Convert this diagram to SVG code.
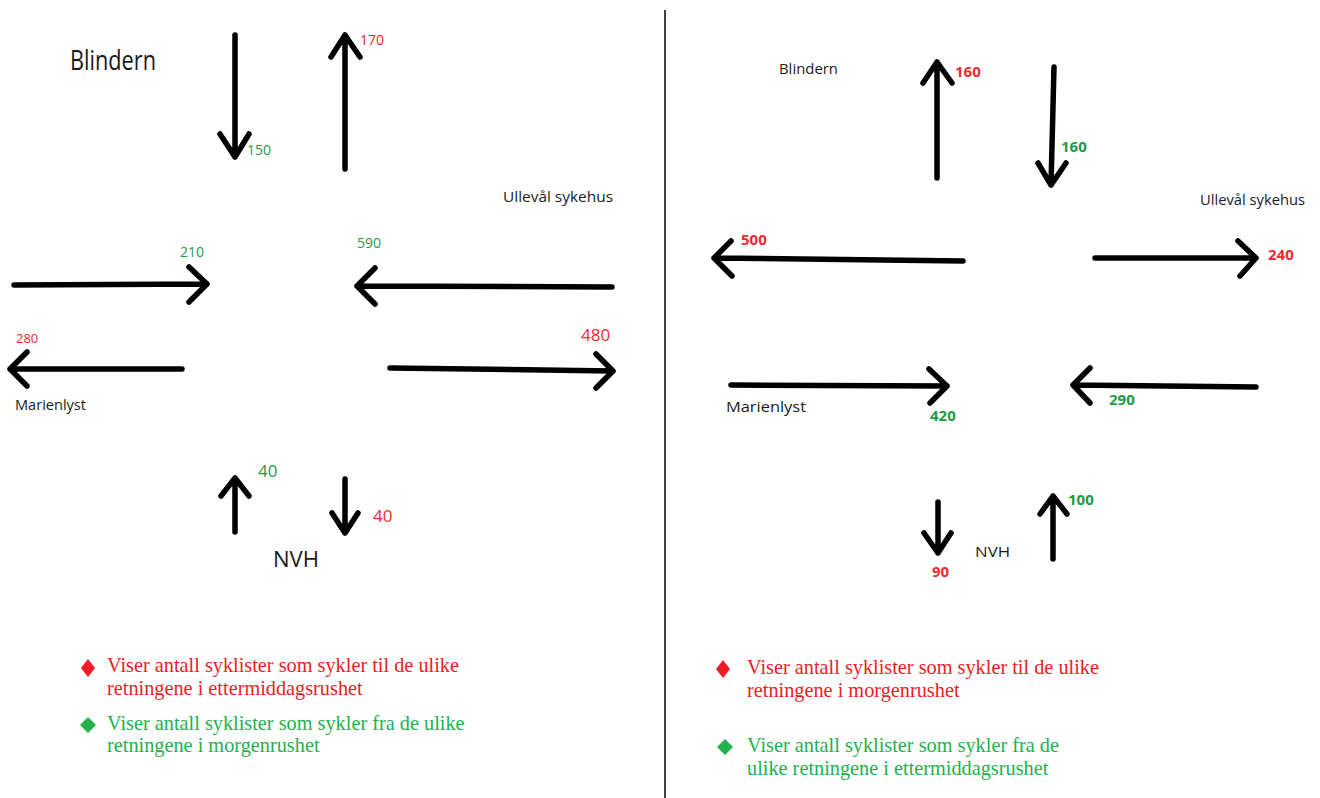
<svg xmlns="http://www.w3.org/2000/svg" width="1320" height="798" viewBox="0 0 1320 798">
<style>
.arr{fill:none;stroke:#000;stroke-width:5.5;stroke-linecap:round;stroke-linejoin:round}
.place{font-family:"Open Sans","Liberation Sans",sans-serif;fill:#1a1a1a}
.num{font-family:"Open Sans","Liberation Sans",sans-serif}
.red{fill:#ee2a2e}
.grn{fill:#1f9a45}
.bold{font-weight:700}
.leg{font-family:"Liberation Serif","Times New Roman",serif;font-size:20.3px}
.lred{fill:#ed1c24}
.lgrn{fill:#22b14c}
</style>
<rect width="1320" height="798" fill="#fff"/>
<line x1="665" y1="10" x2="665" y2="798" stroke="#000" stroke-width="1.5"/>

<g id="connectors">
  <!-- left panel -->
  <path class="arr" d="M235,35 L235,157 M220,134 L235,157 L249,134"/>
  <path class="arr" d="M345,169 L345,35 M331,57 L345,35 L360,57"/>
  <path class="arr" d="M14,285 L207,284 M189,267 L207,284 L189,302"/>
  <path class="arr" d="M612,287 L357,286 M375,268 L357,286 L375,304"/>
  <path class="arr" d="M182,369 L10,369 M27,352 L10,369 L27,386"/>
  <path class="arr" d="M390,368 L613,371 M596,354 L613,371 L596,388"/>
  <path class="arr" d="M235,532 L235,478 M221,496 L235,478 L249,496"/>
  <path class="arr" d="M345,479 L345,533 M332,513 L345,533 L358,513"/>
  <!-- right panel -->
  <path class="arr" d="M937,178 L937,62 M923,83 L937,62 L952,83"/>
  <path class="arr" d="M1054,67 L1051,185 M1038,163 L1051,185 L1066,163"/>
  <path class="arr" d="M963,261 L714,258 M731,241 L714,258 L732,276"/>
  <path class="arr" d="M1095,258 L1256,258 M1238,241 L1256,258 L1240,276"/>
  <path class="arr" d="M731,385 L947,386 M929,369 L947,386 L930,403"/>
  <path class="arr" d="M1256,387 L1073,385 M1090,368 L1073,385 L1090,403"/>
  <path class="arr" d="M938,502 L938,553 M924,533 L938,553 L951,533"/>
  <path class="arr" d="M1053,559 L1053,496 M1040,514 L1053,496 L1067,514"/>
</g>

<g id="left-places">
  <text class="place" x="70" y="70" font-size="28" textLength="86" lengthAdjust="spacingAndGlyphs">Blindern</text>
  <text class="place" x="503" y="202" font-size="15" textLength="110" lengthAdjust="spacingAndGlyphs">Ullevål sykehus</text>
  <text class="place" x="15" y="410" font-size="14" textLength="71" lengthAdjust="spacingAndGlyphs">Marienlyst</text>
  <text class="place" x="273" y="567" font-size="21" textLength="46" lengthAdjust="spacingAndGlyphs">NVH</text>
</g>

<g id="left-numbers" class="num">
  <text class="grn" x="247" y="155" font-size="14">150</text>
  <text class="red" x="360" y="45" font-size="14">170</text>
  <text class="grn" x="180" y="257" font-size="14">210</text>
  <text class="grn" x="357" y="248" font-size="14">590</text>
  <text class="red" x="16" y="343" font-size="13">280</text>
  <text class="red" x="581" y="341" font-size="17">480</text>
  <text class="grn" x="258" y="477" font-size="17">40</text>
  <text class="red" x="373" y="522" font-size="17">40</text>
</g>

<g id="right-places">
  <text class="place" x="779" y="74" font-size="15" textLength="59" lengthAdjust="spacingAndGlyphs">Blindern</text>
  <text class="place" x="1200" y="205" font-size="14" textLength="105" lengthAdjust="spacingAndGlyphs">Ullevål sykehus</text>
  <text class="place" x="726" y="412" font-size="15" textLength="80" lengthAdjust="spacingAndGlyphs">Marienlyst</text>
  <text class="place" x="975" y="557" font-size="15" textLength="35" lengthAdjust="spacingAndGlyphs">NVH</text>
</g>

<g id="right-numbers" class="num bold">
  <text class="red" x="955" y="77" font-size="15">160</text>
  <text class="grn" x="1061" y="152" font-size="15">160</text>
  <text class="red" x="741" y="245" font-size="15">500</text>
  <text class="red" x="1268" y="260" font-size="15">240</text>
  <text class="grn" x="930" y="421" font-size="15">420</text>
  <text class="grn" x="1109" y="405" font-size="15">290</text>
  <text class="red" x="932" y="577" font-size="15">90</text>
  <text class="grn" x="1068" y="505" font-size="15">100</text>
</g>

<g id="legend-left">
  <polygon class="lred" points="88,659 95,668 88,677 81,668"/>
  <text class="leg lred" x="107" y="672">Viser antall syklister som sykler til de ulike</text>
  <text class="leg lred" x="107" y="695">retningene i ettermiddagsrushet</text>
  <polygon class="lgrn" points="88,717 96,725 88,733 80,725"/>
  <text class="leg lgrn" x="107" y="730">Viser antall syklister som sykler fra de ulike</text>
  <text class="leg lgrn" x="107" y="752">retningene i morgenrushet</text>
</g>

<g id="legend-right">
  <polygon class="lred" points="723,660 730,669 723,678 716,669"/>
  <text class="leg lred" x="747" y="674">Viser antall syklister som sykler til de ulike</text>
  <text class="leg lred" x="747" y="697">retningene i morgenrushet</text>
  <polygon class="lgrn" points="725,739 733,747 725,755 717,747"/>
  <text class="leg lgrn" x="747" y="752">Viser antall syklister som sykler fra de</text>
  <text class="leg lgrn" x="747" y="775">ulike retningene i ettermiddagsrushet</text>
</g>
</svg>
